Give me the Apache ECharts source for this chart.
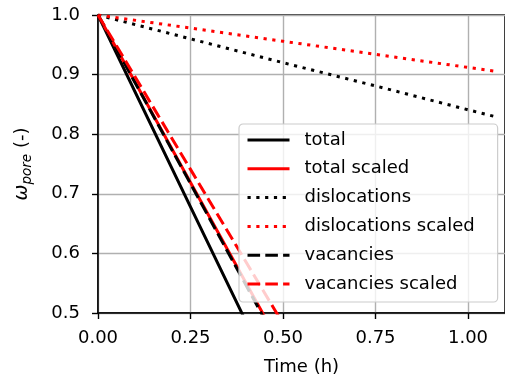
<!DOCTYPE html>
<html>
<head>
<meta charset="utf-8">
<script src="https://cdn.jsdelivr.net/npm/echarts@6/dist/echarts.min.js"></script>
<style>
  html, body { margin: 0; padding: 0; background: #fff; overflow: hidden; }
  #chart { width: 505px; height: 382px; }
</style>
</head>
<body>
<div id="chart"></div>
<script>
// Sample times (h)
const time = [0, 0.25, 0.5, 0.75, 1.0, 1.07];

// Pore fraction for each mechanism (values below 0.5 are clipped by the axis)
const total            = [1.0, 0.678, 0.357];
const totalScaled      = [1.0, 0.719, 0.438];
const dislocations       = [1.0, 0.960, 0.920, 0.881, 0.841, 0.830];
const dislocationsScaled = [1.0, 0.978, 0.956, 0.934, 0.912, 0.906];
const vacancies        = [1.0, 0.717, 0.433];
const vacanciesScaled  = [1.0, 0.741, 0.482];

const xTicks = [0, 0.25, 0.5, 0.75, 1.0];

const names = ['total', 'total scaled', 'dislocations', 'dislocations scaled', 'vacancies', 'vacancies scaled'];

const FONT = 'DejaVu Sans';
const DOTTED = [3.2, 5.6];
const DASHED = [12.6, 5.2];

function pairs(values) {
  return values.map((v, i) => [time[i], v]);
}

function lineSeries(name, values, color, dash) {
  return {
    name: name,
    type: 'line',
    data: pairs(values),
    symbol: 'none',
    clip: true,
    silent: true,
    lineStyle: { color: color, width: 3, type: dash, cap: 'butt' },
    itemStyle: { color: color },
    emphasis: { disabled: true }
  };
}

const chart = echarts.init(document.getElementById('chart'), null, { renderer: 'canvas' });

chart.setOption({
  animation: false,
  backgroundColor: '#ffffff',
  grid: {
    left: 98, right: -1, top: 15, bottom: 69,
    show: true, borderColor: '#000', borderWidth: 1.5, backgroundColor: 'transparent'
  },
  xAxis: {
    type: 'value',
    min: 0, max: 1.1,
    name: 'Time (h)',
    nameLocation: 'middle',
    nameGap: 45,
    nameTextStyle: { fontFamily: FONT, fontSize: 18, color: '#000' },
    axisLine: { show: true, onZero: false, lineStyle: { color: '#000', width: 1.5 } },
    axisTick: { show: true, length: 6, lineStyle: { color: '#000', width: 1.4 }, customValues: xTicks },
    axisLabel: {
      fontFamily: FONT, fontSize: 18, color: '#000', margin: 16,
      customValues: xTicks,
      formatter: v => v.toFixed(2)
    },
    splitLine: { show: true, lineStyle: { color: '#b0b0b0', width: 1.4 } }
  },
  yAxis: {
    type: 'value',
    min: 0.5, max: 1.0, interval: 0.1,
    name: '{w|ω}{s|pore}{n| (-)}',
    nameLocation: 'middle',
    nameRotate: 90,
    nameGap: 64,
    nameTextStyle: {
      fontFamily: FONT, color: '#000',
      rich: {
        w: { fontFamily: FONT, fontSize: 19, fontStyle: 'italic', lineHeight: 24, verticalAlign: 'middle', color: '#000' },
        s: { fontFamily: FONT, fontSize: 13.5, fontStyle: 'italic', lineHeight: 13, verticalAlign: 'bottom', color: '#000' },
        n: { fontFamily: FONT, fontSize: 18, lineHeight: 24, verticalAlign: 'middle', color: '#000' }
      }
    },
    axisLine: { show: true, lineStyle: { color: '#000', width: 1.5 } },
    axisTick: { show: true, length: 6, lineStyle: { color: '#000', width: 1.4 } },
    axisLabel: {
      fontFamily: FONT, fontSize: 18, color: '#000', margin: 18,
      formatter: v => v.toFixed(1)
    },
    splitLine: { show: true, lineStyle: { color: '#b0b0b0', width: 1.4 } }
  },
  legend: {
    data: names,
    orient: 'vertical',
    left: 239, top: 124,
    z: 20,
    selectedMode: false,
    backgroundColor: 'rgba(255,255,255,0.8)',
    borderColor: '#cccccc',
    borderWidth: 1.2,
    borderRadius: 4,
    padding: [6, 23, 8, 7],
    itemWidth: 42,
    itemHeight: 20,
    itemGap: 8.8,
    itemStyle: { opacity: 0 },
    lineStyle: { width: 3, cap: 'butt' },
    textStyle: { fontFamily: FONT, fontSize: 18, color: '#000', lineHeight: 20, padding: [0, 0, 0, 10] }
  },
  series: [
    lineSeries('total', total, '#000000', 'solid'),
    lineSeries('total scaled', totalScaled, '#ff0000', 'solid'),
    lineSeries('dislocations', dislocations, '#000000', DOTTED),
    lineSeries('dislocations scaled', dislocationsScaled, '#ff0000', DOTTED),
    lineSeries('vacancies', vacancies, '#000000', DASHED),
    lineSeries('vacancies scaled', vacanciesScaled, '#ff0000', DASHED)
  ]
});
</script>
</body>
</html>
